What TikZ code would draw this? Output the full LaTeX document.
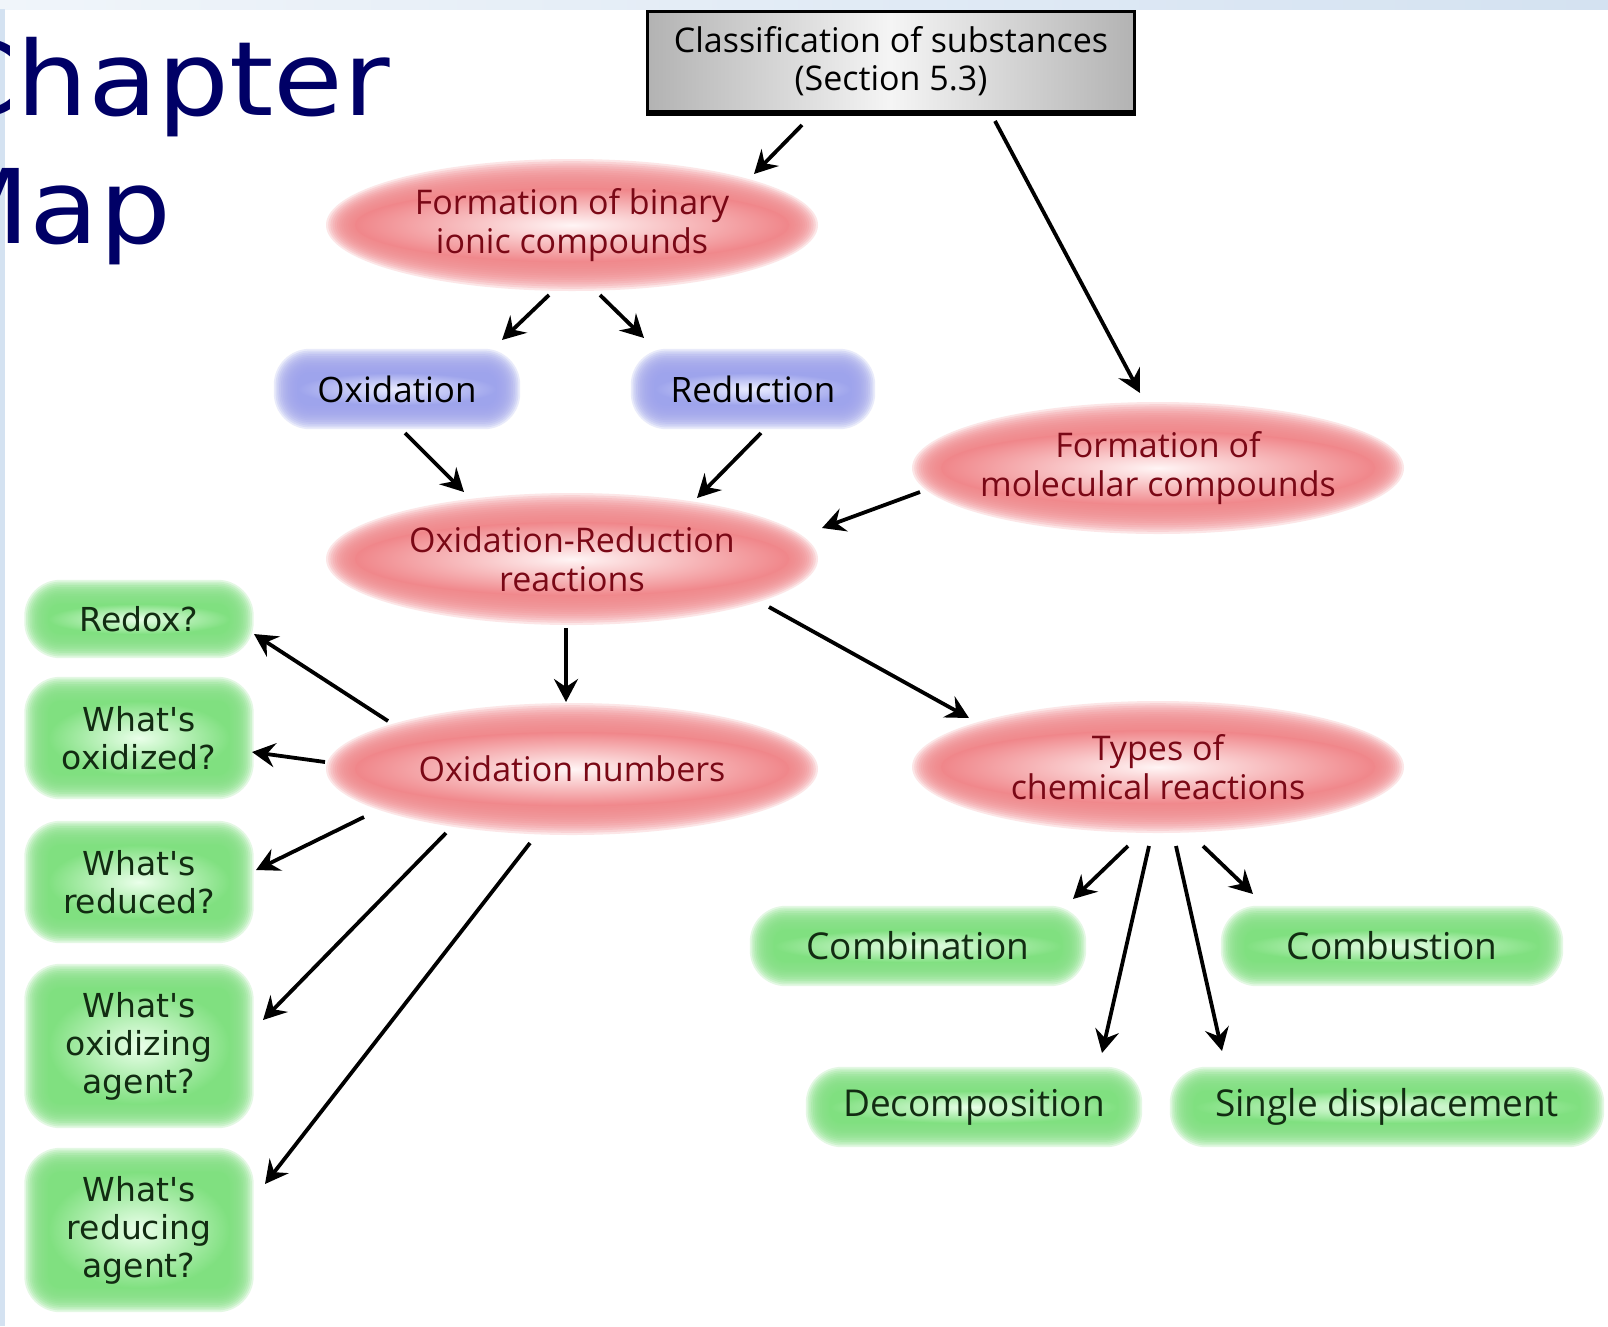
\documentclass[tikz,border=0pt]{standalone}
\usepackage{fontspec}
\setmainfont{Open Sans}
\newfontfamily\titlefont[FakeStretch=1.10]{DejaVu Sans}
\newfontfamily\qfont{DejaVu Sans}
\usepackage{tikz}
\usetikzlibrary{arrows.meta}
\usetikzlibrary{backgrounds}
\usetikzlibrary{shapes.geometric}
\definecolor{navytitle}{RGB}{0,0,102}
\definecolor{bandblue}{RGB}{212,226,241}
\definecolor{ovaltext}{RGB}{122,8,22}
\definecolor{ovaledge}{RGB}{240,134,138}
\definecolor{ovalmid}{RGB}{255,245,245}
\definecolor{bluedge}{RGB}{158,164,236}
\definecolor{bluemid}{RGB}{234,236,255}
\definecolor{greenedge}{RGB}{128,224,128}
\definecolor{greenmid}{RGB}{234,255,234}
\definecolor{qtext}{RGB}{18,44,18}
\tikzset{oval/.style={ellipse, inner sep=0pt, align=center, text=ovaltext, font=\fontsize{34}{39}\selectfont}}
\tikzset{pill/.style={rectangle, rounded corners=24pt, minimum height=56pt, inner sep=0pt, align=center}}
\tikzset{bluepill/.style={pill, text=black, font=\fontsize{35}{40}\selectfont}}
\tikzset{greenpill/.style={pill, text=qtext, font=\fontsize{37}{42}\selectfont}}
\tikzset{question/.style={pill, minimum width=205pt, text=qtext, font=\qfont\fontsize{33}{38}\selectfont}}
\tikzset{clsbox/.style={rectangle, draw=black, line width=3pt, minimum width=487pt, minimum height=100pt, align=center, left color=black!30, right color=black!30, middle color=black!4, font=\fontsize{34}{38}\selectfont}}
\tikzset{titletext/.style={anchor=base west, inner sep=0pt, text=navytitle, font=\titlefont\fontsize{103}{128}\selectfont}}
\tikzset{arr/.style={-{Stealth[length=23pt,width=24pt,inset=8pt]}, line width=3.8pt}}

\begin{document}
\begin{tikzpicture}[x=1pt, y=-1pt]
    \useasboundingbox (0,0) rectangle (1608,1326);

    % title
    \node[titletext] (chapter) at (-63,115) {Chapter};
    \node[titletext] (map)     at (-68,243) {Map};

    % concepts
    \node[clsbox] (cls) at (891,61) {Classification of substances\\(Section 5.3)};
    \node[oval] (binary) at (572,225) {Formation of binary\\ionic compounds};
    \node[bluepill, minimum width=222pt] (oxid)  at (397,389) {Oxidation};
    \node[bluepill, minimum width=220pt] (reduc) at (753,389) {Reduction};
    \node[oval] (molec) at (1158,468) {Formation of\\molecular compounds};
    \node[oval] (redox) at (572,559) {Oxidation-Reduction\\reactions};
    \node[oval] (oxnum) at (572,769) {Oxidation numbers};
    \node[oval] (types) at (1158,767) {Types of\\chemical reactions};

    % questions
    \node[question, minimum height=54pt]  (qredox) at (139,619)  {Redox?};
    \node[question, minimum height=98pt]  (qoxd)   at (139,738)  {What's\\oxidized?};
    \node[question, minimum height=98pt]  (qred)   at (139,882)  {What's\\reduced?};
    \node[question, minimum height=140pt] (qoxag)  at (139,1046) {What's\\oxidizing\\agent?};
    \node[question, minimum height=140pt] (qredag) at (139,1230) {What's\\reducing\\agent?};

    % kinds of reactions
    \node[greenpill, minimum width=312pt] (comb)   at (918,946)   {Combination};
    \node[greenpill, minimum width=318pt] (combu)  at (1392,946)  {Combustion};
    \node[greenpill, minimum width=312pt] (decomp) at (974,1107)  {Decomposition};
    \node[greenpill, minimum width=410pt] (single) at (1387,1107) {Single displacement};

    \draw[line width=3pt] ([yshift=-2pt]cls.south west) -- ([yshift=-2pt]cls.south east);

    % soft glow behind the concepts
    \begin{scope}[on background layer]
        \fill[white] (0,0) rectangle (1608,1326);
        \shade[left color=bandblue!35, right color=bandblue] (0,0) rectangle (1608,9);
        \fill[bandblue] (0,9) rectangle (5,1326);
        \foreach \n in {binary,molec,redox,oxnum,types}{
            \foreach \k in {0,...,13}
                \fill[ovaledge, opacity=0.2] (\n.center) ellipse ({246-2.2*\k} and {66-2.2*\k});
            \shade[inner color=ovalmid, outer color=ovaledge] (\n.center) ellipse (217 and 37);
        }
        \foreach \n/\ec/\mc in {oxid/bluedge/bluemid, reduc/bluedge/bluemid,
                qredox/greenedge/greenmid, qoxd/greenedge/greenmid, qred/greenedge/greenmid,
                qoxag/greenedge/greenmid, qredag/greenedge/greenmid, comb/greenedge/greenmid,
                combu/greenedge/greenmid, decomp/greenedge/greenmid, single/greenedge/greenmid}{
            \foreach \k in {0,...,13}{
                \pgfmathsetmacro\dd{12-1.8*\k}
                \pgfmathsetmacro\nd{-\dd}
                \pgfmathsetmacro\rr{24+\dd}
                \fill[\ec, opacity=0.22, rounded corners=\rr pt]
                    ([shift={(\nd pt,\dd pt)}]\n.north west) rectangle ([shift={(\dd pt,\nd pt)}]\n.south east);
            }
            \shade[inner color=\mc, outer color=\ec, rounded corners=12pt]
                ([shift={(12pt,-12pt)}]\n.north west) rectangle ([shift={(-12pt,12pt)}]\n.south east);
        }
    \end{scope}

    \draw[arr] ([shift={(-89,64)}]cls.center)    -- ([shift={(182,-51)}]binary.center);
    \draw[arr] ([shift={(104,60)}]cls.center)    -- ([shift={(-18,-75)}]molec.center);
    \draw[arr] ([shift={(-23,70)}]binary.center) -- ([shift={(105,-49)}]oxid.center);
    \draw[arr] ([shift={(28,70)}]binary.center)  -- ([shift={(-109,-51)}]reduc.center);
    \draw[arr] ([shift={(8,44)}]oxid.center)     -- ([shift={(-108,-67)}]redox.center);
    \draw[arr] ([shift={(8,44)}]reduc.center)    -- ([shift={(125,-61)}]redox.center);
    \draw[arr] ([shift={(-238,24)}]molec.center) -- ([shift={(250,-31)}]redox.center);
    \draw[arr] ([shift={(-6,69)}]redox.center)   -- ([shift={(-6,-67)}]oxnum.center);
    \draw[arr] ([shift={(197,48)}]redox.center)  -- ([shift={(-189,-49)}]types.center);

    \draw[arr] ([shift={(-184,-48)}]oxnum.center) -- ([shift={(115,15)}]qredox.center);
    \draw[arr] ([shift={(-247,-7)}]oxnum.center)  -- ([shift={(113,14)}]qoxd.center);
    \draw[arr] ([shift={(-208,48)}]oxnum.center)  -- ([shift={(117,-12)}]qred.center);
    \draw[arr] ([shift={(-126,64)}]oxnum.center)  -- ([shift={(124,-26)}]qoxag.center);
    \draw[arr] ([shift={(-42,74)}]oxnum.center)   -- ([shift={(126,-46)}]qredag.center);

    \draw[arr] ([shift={(-30,79)}]types.center) -- ([shift={(155,-47)}]comb.center);
    \draw[arr] ([shift={(-9,79)}]types.center)  -- ([shift={(128,-54)}]decomp.center);
    \draw[arr] ([shift={(18,79)}]types.center)  -- ([shift={(-165,-56)}]single.center);
    \draw[arr] ([shift={(45,79)}]types.center)  -- ([shift={(-139,-52)}]combu.center);
\end{tikzpicture}
\end{document}
